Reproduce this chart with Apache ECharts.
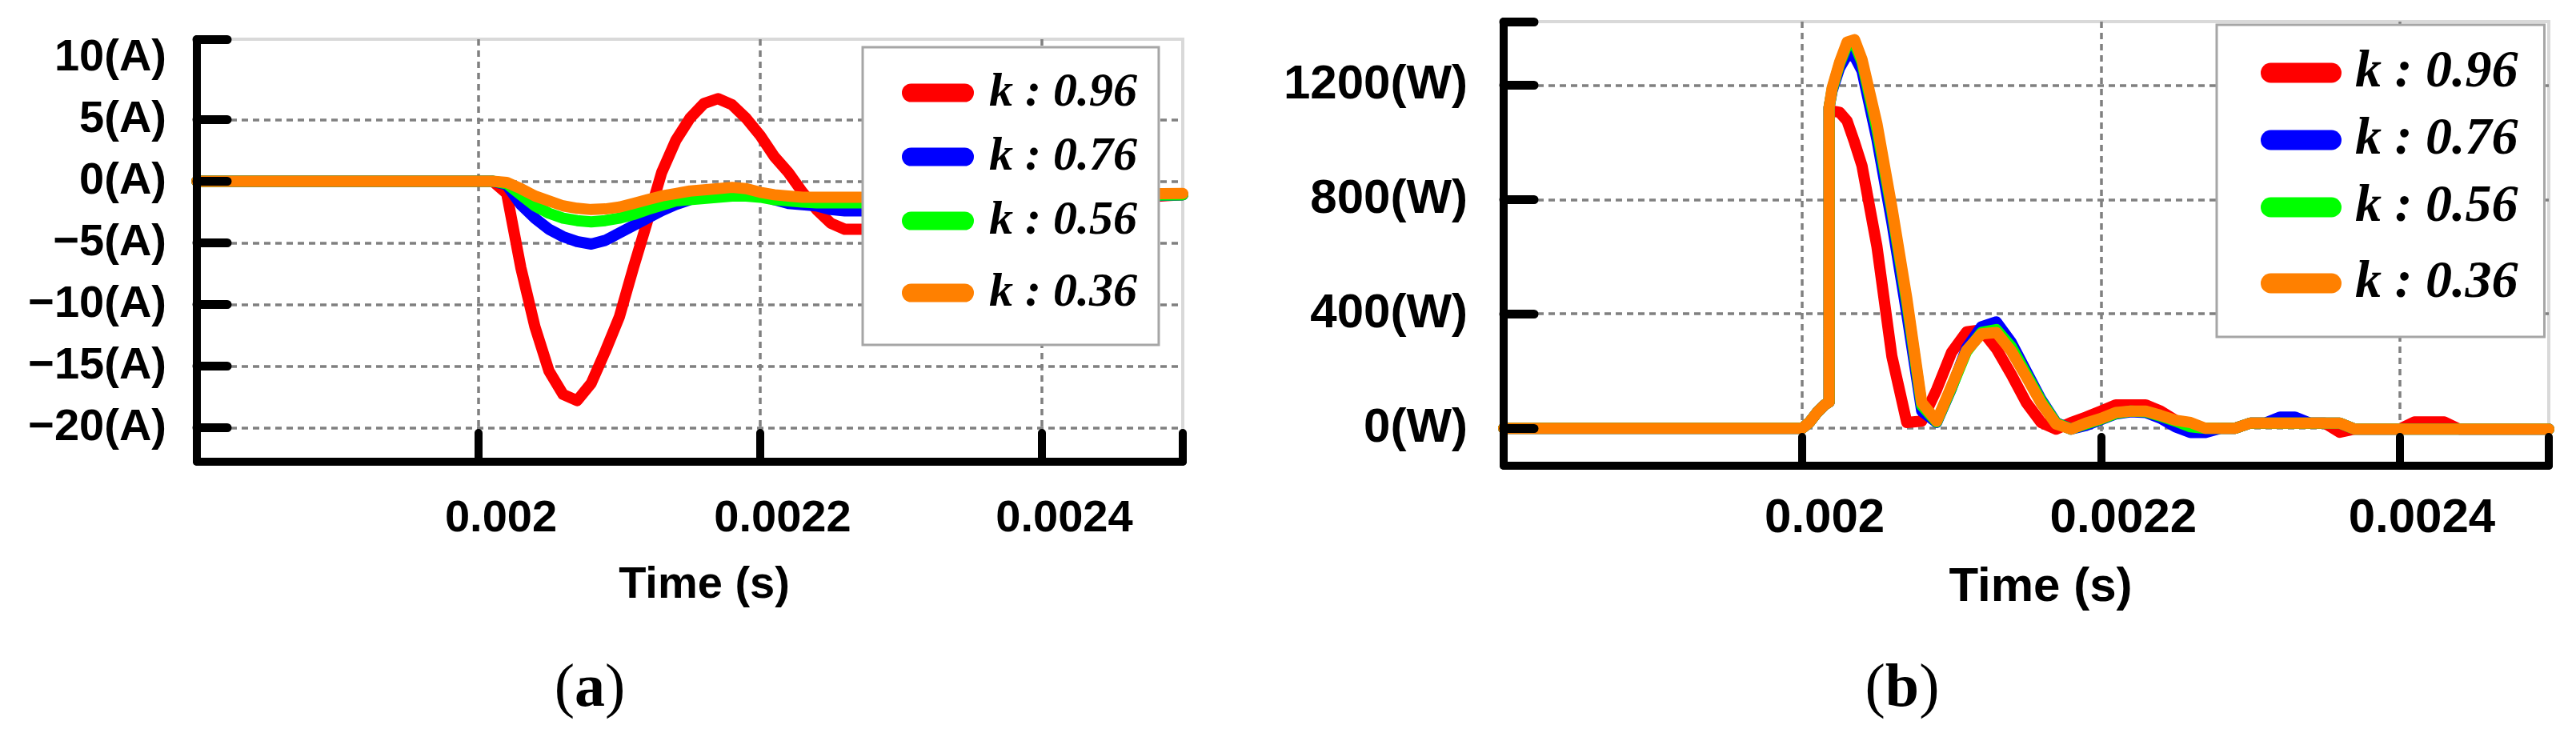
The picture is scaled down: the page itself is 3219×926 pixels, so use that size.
<!DOCTYPE html>
<html>
<head>
<meta charset="utf-8">
<script src="https://cdn.jsdelivr.net/npm/echarts@6/dist/echarts.min.js"></script>
<style>
  html, body { margin: 0; padding: 0; background: #fff; }
  #chart { width: 3219px; height: 926px; }
</style>
</head>
<body>
<div id="chart"></div>
<script>
// ---- data ----
const seriesNames = ['k : 0.96', 'k : 0.76', 'k : 0.56', 'k : 0.36'];
const seriesColors = ['#ff0000', '#0000ff', '#00ff00', '#ff8000'];

// (a) current, time in seconds
const timeA = [0.0018, 0.002, 0.00201, 0.00202, 0.00203, 0.00204, 0.00205, 0.00206, 0.00207, 0.00208,
  0.00209, 0.0021, 0.00211, 0.00212, 0.00213, 0.00214, 0.00215, 0.00216, 0.00217, 0.00218,
  0.00219, 0.0022, 0.00221, 0.00222, 0.00223, 0.00224, 0.00225, 0.00226, 0.00227, 0.00228,
  0.00235, 0.0024, 0.0025];
const currentK096 = [0, 0, 0, -1.0, -7.0, -11.8, -15.4, -17.3, -17.8, -16.4,
  -13.8, -11.0, -7.0, -3.2, 0.7, 3.3, 5.1, 6.3, 6.7, 6.2,
  5.1, 3.7, 2.0, 0.7, -0.9, -2.3, -3.4, -3.9, -3.9, -3.9,
  -3.2, -1.8, -1.1];
const currentK076 = [0, 0, 0, -0.3, -1.9, -3.0, -3.9, -4.5, -4.9, -5.1,
  -4.8, -4.2, -3.6, -3.0, -2.4, -1.9, -1.5, -1.2, -1.0, -0.9,
  -0.9, -1.1, -1.5, -1.8, -1.9, -2.0, -2.3, -2.4, -2.4, -2.4,
  -2.0, -1.4, -1.1];
const currentK056 = [0, 0, 0, -0.2, -1.1, -2.0, -2.6, -3.0, -3.2, -3.3,
  -3.2, -3.0, -2.7, -2.3, -1.95, -1.6, -1.5, -1.4, -1.3, -1.2,
  -1.2, -1.3, -1.5, -1.6, -1.7, -1.75, -1.75, -1.75, -1.75, -1.75,
  -1.5, -1.2, -1.1];
const currentK036 = [0, 0, 0, -0.1, -0.6, -1.2, -1.6, -2.0, -2.2, -2.3,
  -2.25, -2.1, -1.8, -1.5, -1.2, -1.0, -0.8, -0.7, -0.6, -0.5,
  -0.6, -0.9, -1.1, -1.2, -1.3, -1.3, -1.3, -1.3, -1.3, -1.3,
  -1.2, -1.1, -1.0];

// (b) power, time in seconds (the jump at 2.018 ms is listed twice)
const timeB = [0.0018, 0.002, 0.002005, 0.00201, 0.002015, 0.002018, 0.002018, 0.00202, 0.002025, 0.00203,
  0.002035, 0.00204, 0.00205, 0.00206, 0.00207, 0.00208, 0.00209, 0.0021, 0.00211, 0.00212,
  0.00213, 0.00214, 0.00215, 0.00216, 0.00217, 0.00218, 0.00219, 0.0022, 0.00221, 0.00222,
  0.00223, 0.00224, 0.00225, 0.00226, 0.00227, 0.00228, 0.00229, 0.0023, 0.00231, 0.00232,
  0.00233, 0.00234, 0.00235, 0.00236, 0.00237, 0.00238, 0.00239, 0.0024, 0.00241, 0.00242,
  0.00243, 0.00244, 0.00245, 0.00246, 0.00247, 0.00248, 0.00249, 0.0025];
const powerK096 = [0, 0, 22, 56, 82, 92, 1123, 1110, 1105, 1075,
  1000, 918, 636, 252, 20, 25, 135, 265, 337, 344,
  278, 188, 90, 20, -3, 20, 39, 60, 82, 82,
  82, 60, 28, 5, 0, 0, 0, 18, 18, 18,
  18, 18, 18, -14, -3, -3, -3, -3, 22, 22,
  22, -3, -3, -3, -3, -3, -3, -3];
const powerK076 = [0, 0, 22, 56, 82, 92, 1123, 1180, 1260, 1305,
  1300, 1250, 1010, 720, 400, 60, 20, 140, 280, 355,
  372, 300, 200, 100, 20, -3, 10, 30, 50, 58,
  55, 35, 5, -15, -15, 0, 0, 18, 18, 39,
  39, 18, 18, 18, -3, -3, -3, -3, -3, -3,
  -3, -3, -3, -3, -3, -3, -3, -3];
const powerK056 = [0, 0, 22, 56, 82, 92, 1123, 1185, 1275, 1340,
  1345, 1280, 1045, 760, 440, 80, 22, 142, 268, 335,
  345, 285, 190, 95, 18, -3, 15, 32, 52, 60,
  58, 42, 25, 5, 0, 0, 0, 18, 18, 18,
  18, 18, 18, 18, -3, -3, -3, -3, -3, -3,
  -3, -3, -3, -3, -3, -3, -3, -3];
const powerK036 = [0, 0, 22, 56, 82, 92, 1123, 1190, 1280, 1350,
  1359, 1290, 1065, 773, 455, 90, 25, 148, 272, 330,
  335, 270, 180, 88, 15, -3, 18, 34, 55, 60,
  60, 45, 28, 20, 0, 0, 0, 18, 18, 18,
  18, 18, 18, 18, -3, -3, -3, -3, -3, -3,
  -3, -3, -3, -3, -3, -3, -3, -3];

// axis ticks
const xTickValues = [0.002, 0.0022, 0.0024];
const xTickLabels = ['0.002', '0.0022', '0.0024'];
const xMin = 0.0018, xMax = 0.0025;
const yGridA = [-20, -15, -10, -5, 0, 5];
const yLabelA = [-20, -15, -10, -5, 0, 5, 10];
const yMinA = -22.76, yMaxA = 11.52;
const yGridB = [0, 400, 800, 1200];
const yMinB = -131, yMaxB = 1422;

// ---- chart ----
const chart = echarts.init(document.getElementById('chart'), null, { renderer: 'canvas' });

const dashed = { color: '#808080', width: 3.5, type: [8, 6] };
const black = '#000';

function xLabel(v) {
  const i = xTickValues.findIndex(x => Math.abs(x - v) < 1e-9);
  return i >= 0 ? xTickLabels[i] : '';
}
function ampLabel(v) {
  return (v < 0 ? '\u2212' + Math.abs(v) : String(v)) + '(A)';
}

// two x axes + two y axes per panel: one only for the dashed grid (under the curves),
// one for the black axis line / ticks / labels (over the curves)
function gridAxisX(gi) {
  return {
    type: 'value', gridIndex: gi, position: 'bottom', min: xMin, max: xMax, z: 0,
    axisLine: { show: false, onZero: false },
    axisTick: { show: false, customValues: xTickValues },
    axisLabel: { show: false },
    splitLine: { show: true, lineStyle: dashed }
  };
}
function mainAxisX(gi, fs, margin, nameGap) {
  return {
    type: 'value', gridIndex: gi, position: 'bottom', min: xMin, max: xMax, z: 5,
    name: 'Time (s)', nameLocation: 'middle', nameGap: nameGap,
    nameTextStyle: { fontFamily: 'Liberation Sans', fontWeight: 'bold', fontSize: fs, color: black, padding: [0, 0, 0, 36] },
    axisLine: { show: true, onZero: false, lineStyle: { color: black, width: 10, cap: 'round' } },
    axisTick: { show: true, inside: true, length: 36, customValues: xTickValues.concat([xMax]),
      lineStyle: { color: black, width: 10, cap: 'round' } },
    axisLabel: { show: true, customValues: xTickValues, formatter: xLabel, margin: margin,
      fontFamily: 'Liberation Sans', fontWeight: 'bold', fontSize: fs, color: black, padding: [0, 0, 0, 56] },
    splitLine: { show: false }
  };
}
function gridAxisY(gi, min, max, ticks) {
  return {
    type: 'value', gridIndex: gi, position: 'left', min: min, max: max, z: 0,
    axisLine: { show: false, onZero: false },
    axisTick: { show: false, customValues: ticks },
    axisLabel: { show: false },
    splitLine: { show: true, lineStyle: dashed }
  };
}
function mainAxisY(gi, min, max, ticks, labels, fmt, fs, margin) {
  return {
    type: 'value', gridIndex: gi, position: 'left', min: min, max: max, z: 5,
    axisLine: { show: true, onZero: false, lineStyle: { color: black, width: 10, cap: 'round' } },
    axisTick: { show: true, inside: true, length: 38, customValues: ticks.concat([max]),
      lineStyle: { color: black, width: 11, cap: 'round' } },
    axisLabel: { show: true, customValues: labels, formatter: fmt, margin: margin,
      fontFamily: 'Liberation Sans', fontWeight: 'bold', fontSize: fs, color: black },
    splitLine: { show: false }
  };
}

function makeSeries(times, valueLists, axisIndex) {
  return valueLists.map((vals, k) => ({
    name: seriesNames[k],
    type: 'line',
    xAxisIndex: axisIndex,
    yAxisIndex: axisIndex,
    data: times.map((t, i) => [t, vals[i]]),
    showSymbol: false,
    symbol: 'none',
    color: seriesColors[k],
    lineStyle: { color: seriesColors[k], width: 14, cap: 'round', join: 'round' },
    z: 2 + k * 0.1
  }));
}

// the last legend row sits a bit lower in the figure: give it a taller line box
function makeLegend(left, top, pad, gap, iw, ih, icon, fs, textGap, lastLine) {
  return {
    data: seriesNames.map((n, i) => i === seriesNames.length - 1
      ? { name: n, textStyle: { lineHeight: lastLine } } : n),
    orient: 'vertical', left: left, top: top,
    padding: pad, itemGap: gap, itemWidth: iw, itemHeight: ih, icon: icon,
    backgroundColor: '#fff', borderColor: '#a6a6a6', borderWidth: 3, borderRadius: 0,
    selectedMode: false, z: 10,
    itemStyle: { borderWidth: 0 },
    textStyle: { fontFamily: 'Liberation Serif', fontStyle: 'italic', fontWeight: 'bold',
      fontSize: fs, lineHeight: fs, color: black, padding: [0, 0, 0, textGap] }
  };
}

const pillA = 'path://M11.5,0H78.5A11.5,11.5,0,0,1,78.5,23H11.5A11.5,11.5,0,0,1,11.5,0Z';
const pillB = 'path://M12.5,0H88.5A12.5,12.5,0,0,1,88.5,25H12.5A12.5,12.5,0,0,1,12.5,0Z';

const richCap = {
  p: { fontFamily: 'Liberation Serif', fontSize: 76, color: black },
  b: { fontFamily: 'Liberation Serif', fontSize: 76, fontWeight: 'bold', color: black }
};

const gridCommon = { show: true, borderColor: '#d9d9d9', borderWidth: 4, backgroundColor: 'transparent',
  containLabel: false, outerBoundsMode: 'none' };

const option = {
  backgroundColor: '#fff',
  animation: false,
  grid: [
    Object.assign({ left: 246, top: 49, width: 1232, height: 528 }, gridCommon),
    Object.assign({ left: 1879, top: 27, width: 1306, height: 555 }, gridCommon)
  ],
  xAxis: [
    gridAxisX(0),
    mainAxisX(0, 56, 44, 127),
    gridAxisX(1),
    mainAxisX(1, 60, 36, 122)
  ],
  yAxis: [
    gridAxisY(0, yMinA, yMaxA, yGridA),
    mainAxisY(0, yMinA, yMaxA, yGridA, yLabelA, ampLabel, 56, 38),
    gridAxisY(1, yMinB, yMaxB, yGridB),
    mainAxisY(1, yMinB, yMaxB, yGridB, yGridB, v => v + '(W)', 60, 45)
  ],
  legend: [
    makeLegend(1078, 59, [27, 27, 25, 49], 20, 90, 23, pillA, 60, 14, 80),
    makeLegend(2770, 31, [27, 33, 23, 55], 18, 101, 25, pillB, 66, 12, 88)
  ],
  series: makeSeries(timeA, [currentK096, currentK076, currentK056, currentK036], 0)
    .concat(makeSeries(timeB, [powerK096, powerK076, powerK056, powerK036], 2)),
  graphic: [
    { type: 'text', x: 737, y: 862, style: { text: '{p|(}{b|a}{p|)}', rich: richCap, align: 'center', verticalAlign: 'middle' } },
    { type: 'text', x: 2377, y: 862, style: { text: '{p|(}{b|b}{p|)}', rich: richCap, align: 'center', verticalAlign: 'middle' } }
  ]
};

chart.setOption(option);
</script>
</body>
</html>
